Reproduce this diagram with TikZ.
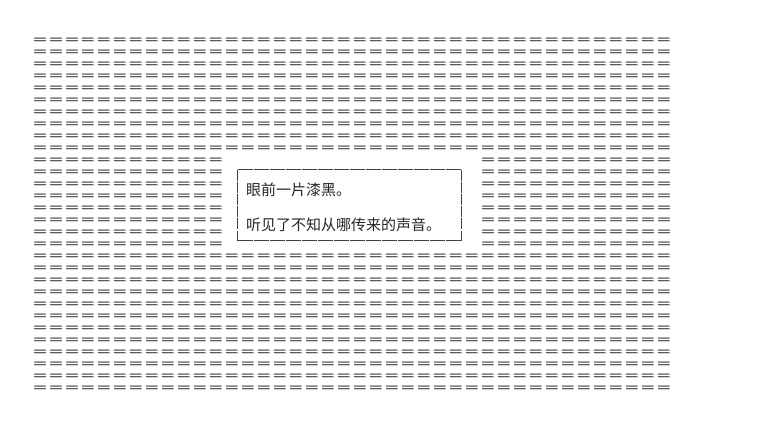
\documentclass[tikz,border=0pt]{standalone}
\usepackage{fontspec}
\usepackage{graphicx}
\newfontfamily\cjk{Noto Sans CJK SC}
\def\eqfull{＝＝＝＝＝＝＝＝＝＝＝＝＝＝＝＝＝＝＝＝＝＝＝＝＝＝＝＝＝＝＝＝＝＝＝＝＝＝＝＝}
\def\eqhalf{＝＝＝＝＝＝＝＝＝＝＝＝}
\newcommand\eqtxt[1]{\scalebox{1.3333}[1]{\cjk\fontsize{12}{12}\selectfont #1}}
\tikzset{
  eqrow/.style={anchor=base west, inner sep=0pt, outer sep=0pt, text=black},
  dlgtext/.style={anchor=base west, inner sep=0pt, text=black!85, font=\cjk\fontsize{15}{15}\selectfont},
  dlgh/.style={draw=black!75, line width=0.9pt, dash pattern=on 15pt off 1pt},
  dlgv/.style={draw=black!75, line width=0.9pt, dash pattern=on 11pt off 1.2pt}
}
\begin{document}
\begin{tikzpicture}[x=1pt,y=-1pt]
\useasboundingbox[fill=white] (0,0) rectangle (768,424);
\foreach \r in {0,...,9} {
  \node[eqrow] (row\r) at (32,{44.6+12*\r}) {\eqtxt{\eqfull}};
}
\foreach \r in {10,...,17} {
  \node[eqrow] (rowL\r) at (32,{44.6+12*\r}) {\eqtxt{\eqhalf}};
  \node[eqrow] (rowR\r) at (480,{44.6+12*\r}) {\eqtxt{\eqhalf}};
}
\foreach \r in {18,...,29} {
  \node[eqrow] (row\r) at (32,{44.6+12*\r}) {\eqtxt{\eqfull}};
}
\coordinate (boxTL) at (237.5,169.5);
\coordinate (boxTR) at (461.5,169.5);
\coordinate (boxBL) at (237.5,240.5);
\coordinate (boxBR) at (461.5,240.5);
\draw[dlgh] (boxTL) -- (boxTR);
\draw[dlgh] (boxBL) -- (boxBR);
\draw[dlgv] (boxTL) -- (boxBL);
\draw[dlgv] (boxTR) -- (boxBR);
\node[dlgtext] (line1) at (246,195) {眼前一片漆黑。};
\node[dlgtext] (line2) at (246,230) {听见了不知从哪传来的声音。};
\end{tikzpicture}
\end{document}
